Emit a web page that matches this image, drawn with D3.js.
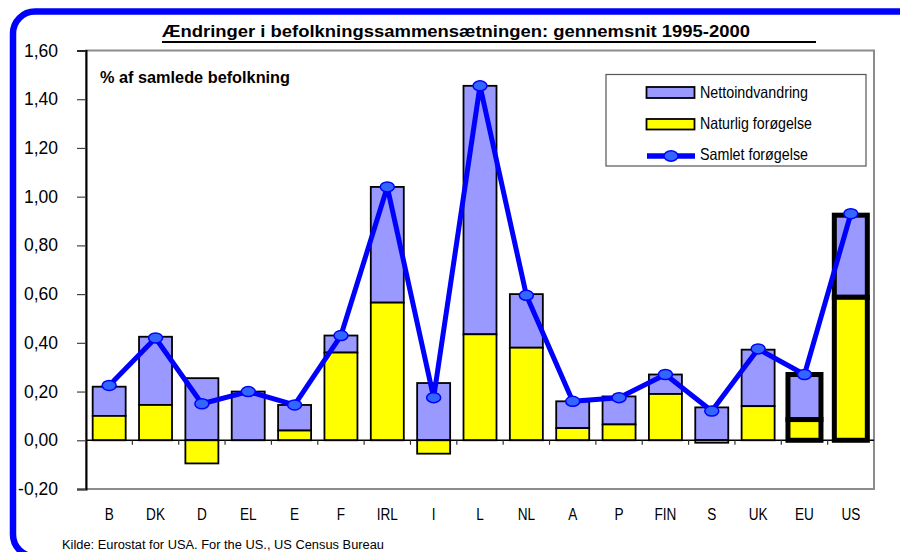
<!DOCTYPE html>
<html>
<head>
<meta charset="utf-8">
<script src="https://cdn.jsdelivr.net/npm/d3@7"></script>
<style>
  html, body { margin: 0; padding: 0; background: #fff; }
  svg { display: block; font-family: Arial, "Liberation Sans", sans-serif; }
</style>
</head>
<body>
<svg id="chart" width="900" height="552"></svg>
<script>
const categories = ["B","DK","D","EL","E","F","IRL","I","L","NL","A","P","FIN","S","UK","EU","US"];
const naturalIncrease = [0.10, 0.145, -0.095, 0.00, 0.04, 0.36, 0.565, -0.055, 0.435, 0.38, 0.05, 0.065, 0.19, -0.01, 0.14, 0.085, 0.587];
const netImmigration  = [0.12, 0.28, 0.255, 0.20, 0.105, 0.07, 0.475, 0.235, 1.02, 0.22, 0.11, 0.115, 0.08, 0.135, 0.232, 0.185, 0.337];
const totalIncrease   = [0.225, 0.42, 0.15, 0.20, 0.145, 0.43, 1.04, 0.175, 1.455, 0.595, 0.16, 0.175, 0.27, 0.12, 0.375, 0.27, 0.93];
const yTicks = [-0.2, 0, 0.2, 0.4, 0.6, 0.8, 1.0, 1.2, 1.4, 1.6];
const highlighted = ["EU","US"];
const legendLabels = ["Nettoindvandring", "Naturlig forøgelse", "Samlet forøgelse"];

const colNet = "#9999FF", colNat = "#FFFF00", colLine = "#0000FF", colMarker = "#3366FF";

const svg = d3.select("#chart");
const pLeft = 86, pRight = 874, pTop = 50.5, pBottom = 489;

const x = d3.scaleBand().domain(categories).range([pLeft, pRight]).padding(0);
const y = d3.scaleLinear().domain([-0.2, 1.6]).range([pBottom, pTop]);
const fmt = d3.formatLocale({decimal: ",", thousands: ".", grouping: [3], currency: ["", ""], minus: "-"}).format(".2f");

// outer blue frame
svg.append("rect").attr("x", 13).attr("y", 11.5).attr("width", 930).attr("height", 545)
  .attr("rx", 22).attr("fill", "none").attr("stroke", colLine).attr("stroke-width", 6.5);

// title
svg.append("text").attr("x", 162).attr("y", 37.3)
  .attr("font-size", 17).attr("font-weight", "bold")
  .attr("textLength", 588).attr("lengthAdjust", "spacingAndGlyphs")
  .text("Ændringer i befolkningssammensætningen: gennemsnit 1995-2000");
svg.append("line").attr("x1", 162).attr("x2", 816).attr("y1", 42).attr("y2", 42)
  .attr("stroke", "#000").attr("stroke-width", 2.2);

// plot frame
svg.append("rect").attr("x", pLeft).attr("y", pTop).attr("width", pRight - pLeft).attr("height", pBottom - pTop)
  .attr("fill", "none").attr("stroke", "#8c8c8c").attr("stroke-width", 2);

// y axis
const yAxis = d3.axisLeft(y).tickValues(yTicks).tickFormat(fmt).tickSize(9).tickPadding(19);
const gy = svg.append("g").attr("transform", `translate(${pLeft},0)`).call(yAxis);
gy.select(".domain").attr("stroke", "#000").attr("stroke-width", 2);
gy.selectAll(".tick line").attr("stroke", "#444").attr("stroke-width", 1.2);
gy.selectAll(".tick text").attr("font-size", 17.5).attr("fill", "#000")
  .attr("font-family", "Arial, 'Liberation Sans', sans-serif");

// subtitle
svg.append("text").attr("x", 100).attr("y", 83.3)
  .attr("font-size", 16.5).attr("font-weight", "bold")
  .attr("textLength", 190).attr("lengthAdjust", "spacingAndGlyphs")
  .text("% af samlede befolkning");

// bars
const barW = 33;
categories.forEach((c, i) => {
  const cx = x(c) + x.bandwidth() / 2;
  const nat = naturalIncrease[i], net = netImmigration[i];
  const sw = highlighted.includes(c) ? 5 : 1.8;
  const base = Math.max(nat, 0);
  svg.append("rect").attr("x", cx - barW / 2).attr("width", barW)
    .attr("y", y(base + net)).attr("height", y(base) - y(base + net))
    .attr("fill", colNet).attr("stroke", "#000").attr("stroke-width", sw);
  if (Math.abs(nat) > 0.001) {
    svg.append("rect").attr("x", cx - barW / 2).attr("width", barW)
      .attr("y", y(Math.max(nat, 0))).attr("height", Math.abs(y(nat) - y(0)))
      .attr("fill", colNat).attr("stroke", "#000").attr("stroke-width", sw);
  }
});

// zero axis with category ticks
svg.append("line").attr("x1", pLeft).attr("x2", pRight).attr("y1", y(0)).attr("y2", y(0))
  .attr("stroke", "#000").attr("stroke-width", 1.5);
categories.slice(1).forEach(c => {
  svg.append("line").attr("x1", x(c)).attr("x2", x(c)).attr("y1", y(0)).attr("y2", y(0) + 4.5)
    .attr("stroke", "#333").attr("stroke-width", 1.2);
});

// category labels
categories.forEach(c => {
  const cx = x(c) + x.bandwidth() / 2;
  svg.append("text").attr("transform", `translate(${cx},520) scale(0.8,1)`)
    .attr("text-anchor", "middle").attr("font-size", 17).text(c);
});

// total line
const pts = categories.map((c, i) => [x(c) + x.bandwidth() / 2, y(totalIncrease[i])]);
svg.append("path").attr("d", d3.line()(pts)).attr("fill", "none")
  .attr("stroke", colLine).attr("stroke-width", 5).attr("stroke-linejoin", "round");
svg.selectAll(".mk").data(pts).enter().append("ellipse")
  .attr("cx", d => d[0]).attr("cy", d => d[1]).attr("rx", 7).attr("ry", 5)
  .attr("fill", colMarker).attr("stroke", colLine).attr("stroke-width", 1.5);

// legend
const lg = svg.append("g");
lg.append("rect").attr("x", 606).attr("y", 74.5).attr("width", 260).attr("height", 91.5)
  .attr("fill", "#fff").attr("stroke", "#555").attr("stroke-width", 1.2);
lg.append("rect").attr("x", 646.5).attr("y", 87).attr("width", 48).attr("height", 11)
  .attr("fill", colNet).attr("stroke", "#000").attr("stroke-width", 1.8);
lg.append("rect").attr("x", 646.5).attr("y", 119).attr("width", 48).attr("height", 10.5)
  .attr("fill", colNat).attr("stroke", "#000").attr("stroke-width", 1.8);
lg.append("line").attr("x1", 647).attr("x2", 695).attr("y1", 156).attr("y2", 156)
  .attr("stroke", colLine).attr("stroke-width", 5.5);
lg.append("ellipse").attr("cx", 671).attr("cy", 156).attr("rx", 7).attr("ry", 5.2)
  .attr("fill", colMarker).attr("stroke", colLine).attr("stroke-width", 1.5);
const legY = [97.5, 128.5, 160];
const legW = [108, 112, 108];
legendLabels.forEach((t, i) => {
  lg.append("text").attr("x", 700).attr("y", legY[i]).attr("font-size", 16.5)
    .attr("textLength", legW[i]).attr("lengthAdjust", "spacingAndGlyphs").text(t);
});

// source
svg.append("text").attr("x", 62).attr("y", 549).attr("font-size", 12.5)
  .attr("textLength", 322).attr("lengthAdjust", "spacingAndGlyphs")
  .text("Kilde: Eurostat for USA. For the US., US Census Bureau");
</script>
</body>
</html>
